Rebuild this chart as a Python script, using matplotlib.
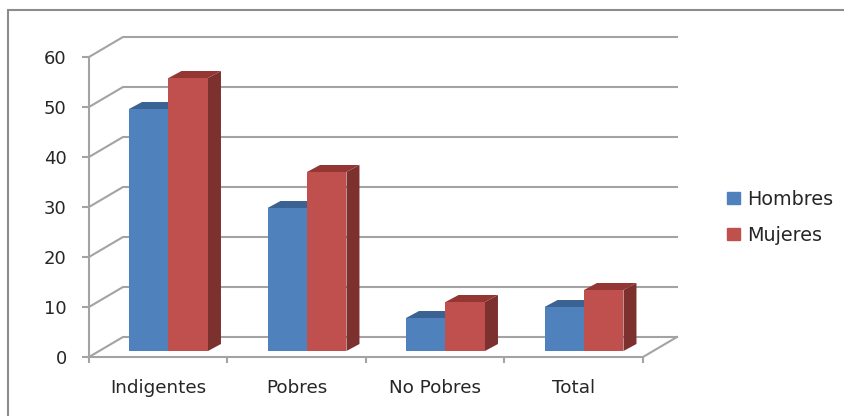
import matplotlib
matplotlib.use('Agg')
import matplotlib.pyplot as plt
from matplotlib.lines import Line2D
from matplotlib.patches import Polygon, Rectangle

categories = ['Indigentes', 'Pobres', 'No Pobres', 'Total']
hombres = [48.4, 28.6, 6.6, 8.8]
mujeres = [54.6, 35.8, 9.8, 12.2]
y_ticks = [0, 10, 20, 30, 40, 50, 60]

GRID = '#a3a3a3'
TEXT = '#262626'
plt.rcParams['font.family'] = 'DejaVu Sans'

# floor depth of the fake 3d box, in data units
DEPTH_X = 34 / 138.5
DEPTH_Y = 4.0
# bar depth and where it sits on the floor
BAR_X = 13 / 138.5
BAR_Y = 1.4
BASE = 1.2
BAR_W = 0.285


def draw_bar(ax, x, value, front, top, side):
    x0 = x
    x1 = x + BAR_W
    y0 = BASE
    y1 = value + BASE
    ax.add_patch(Polygon([(x1, y0), (x1 + BAR_X, y0 + BAR_Y), (x1 + BAR_X, y1 + BAR_Y), (x1, y1)],
                         color=side, lw=0, clip_on=False, zorder=3))
    ax.add_patch(Polygon([(x0, y1), (x0 + BAR_X, y1 + BAR_Y), (x1 + BAR_X, y1 + BAR_Y), (x1, y1)],
                         color=top, lw=0, clip_on=False, zorder=3))
    ax.add_patch(Rectangle((x0, y0), BAR_W, value, color=front, lw=0, clip_on=False, zorder=4))


fig = plt.figure(figsize=(8.45, 4.16), dpi=100)
ax = fig.add_axes([89 / 845, (416 - 357) / 416, 554 / 845, 300 / 416])
ax.set_xlim(0, len(categories))
ax.set_ylim(0, 60)

# back wall gridlines with their diagonal links to the front axis
for t in y_ticks:
    ax.plot([0, DEPTH_X, len(categories) + DEPTH_X], [t, t + DEPTH_Y, t + DEPTH_Y],
            color=GRID, lw=1.5, clip_on=False, zorder=1, solid_joinstyle='miter')
ax.plot([len(categories), len(categories) + DEPTH_X], [0, DEPTH_Y], color=GRID, lw=1.5, clip_on=False, zorder=1)

for i in range(len(categories)):
    draw_bar(ax, i + 0.289, hombres[i], '#4f81bd', '#3a6393', '#3a6393')
    draw_bar(ax, i + 0.289 + BAR_W, mujeres[i], '#c0504d', '#943634', '#7d312f')

for side in ['top', 'right']:
    ax.spines[side].set_visible(False)
for side in ['left', 'bottom']:
    ax.spines[side].set_color(GRID)
    ax.spines[side].set_linewidth(1.5)

ax.set_yticks(y_ticks)
ax.set_xticks(range(len(categories) + 1))
ax.set_xticklabels([])
ax.set_xticks([i + 0.5 for i in range(len(categories))], minor=True)
ax.set_xticklabels(categories, minor=True, fontsize=13.2, color=TEXT)
ax.tick_params(axis='x', which='major', length=4, width=1.5, color=GRID)
ax.tick_params(axis='x', which='minor', length=0, pad=16)
ax.tick_params(axis='y', length=5, width=1.5, color=GRID, labelsize=13, labelcolor=TEXT, pad=11)

# outer chart frame, open on the right and at the bottom
fig.add_artist(Line2D([8 / 845, 8 / 845, 1], [0, 1 - 10 / 416, 1 - 10 / 416], transform=fig.transFigure,
                      color='#8c8c8c', lw=1.5, solid_joinstyle='miter'))

handles = [Rectangle((0, 0), 1, 1, color='#4f81bd'), Rectangle((0, 0), 1, 1, color='#c0504d')]
fig.legend(handles, ['Hombres', 'Mujeres'], loc='upper left', bbox_to_anchor=(727 / 845, 1 - 190 / 416),
           frameon=False, fontsize=13.8, labelcolor=TEXT, handlelength=0.68, handleheight=0.58,
           handletextpad=0.36, labelspacing=0.88, borderpad=0, borderaxespad=0)

fig.savefig('out.png', dpi=100)
